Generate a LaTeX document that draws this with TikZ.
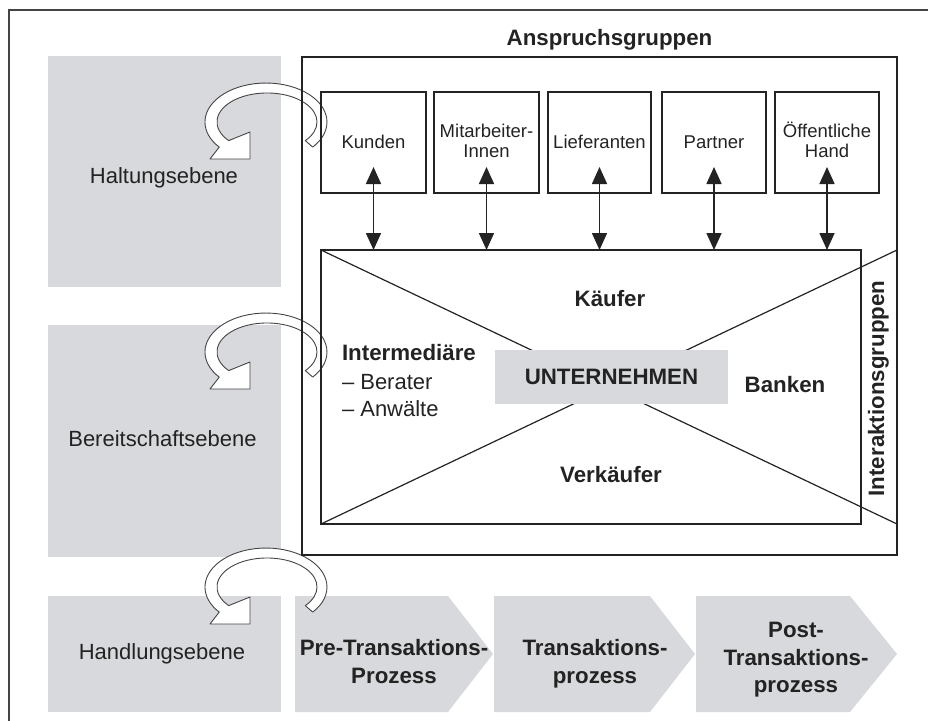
\documentclass[tikz,border=0pt]{standalone}
\usepackage{fontspec}
\setmainfont{Liberation Sans}
\usetikzlibrary{arrows.meta,calc}
\definecolor{lgray}{RGB}{216,217,220}
\definecolor{ink}{RGB}{35,35,35}
\begin{document}
\begin{tikzpicture}[x=1pt,y=-1pt,
  every node/.style={inner sep=0pt, outer sep=0pt, text=ink},
  graybox/.style={fill=lgray, draw=none, rectangle},
  frame/.style={draw=ink!85, line width=1.3pt},
  grpbox/.style={draw=ink, line width=1.4pt, rectangle},
  lbl/.style={font=\fontsize{22}{26}\selectfont, anchor=base},
  blbl/.style={font=\fontsize{22.3}{28}\selectfont\bfseries, anchor=base},
  slbl/.style={font=\fontsize{18.5}{20}\selectfont, anchor=base},
  dbl/.style={{Triangle[length=17pt,width=15pt]}-{Triangle[length=17pt,width=15pt]}, line width=1.6pt, draw=ink},
  loopar/.style={fill=white, draw=ink!85, line width=0.9pt, line join=round},
  diag/.style={draw=ink, line width=1.2pt}]

\useasboundingbox (0,0) rectangle (928,720);
\clip (0,0) rectangle (928,720);

% outer frame (cut by the picture edge on the right and bottom)
\draw[frame] (9,10) rectangle (960,760);

% level boxes
\node[graybox, minimum width=233pt, minimum height=231pt] (halt) at (164.5,171.5) {};
\node[graybox, minimum width=233pt, minimum height=232pt] (bereit) at (164.5,441) {};
\node[graybox, minimum width=233pt, minimum height=116pt] (handl) at (164.5,654) {};

% process chevrons
\fill[lgray] (295,596) -- (448,596) -- (493,654) -- (448,712) -- (295,712) -- cycle;
\fill[lgray] (494,596) -- (650,596) -- (695,654) -- (650,712) -- (494,712) -- cycle;
\fill[lgray] (696,596) -- (850,596) -- (897,654) -- (850,712) -- (696,712) -- cycle;

% loop arrows
\foreach \dy in {0,230,465} {
  \begin{scope}[shift={(0,\dy)}]
    \path[loopar] (312.7,147.1) arc[start angle=40, end angle=-220, x radius=61, y radius=39]
      -- (210,159) -- (250,159) -- (250,132) -- (228.7,140.6)
      arc[start angle=140, end angle=400, x radius=50, y radius=29] -- cycle;
  \end{scope}
}

% Anspruchsgruppen box
\node[grpbox, minimum width=595pt, minimum height=498pt] (anspr) at (599.5,306) {};
\node[blbl] (tanspr) at (609.5,45) {Anspruchsgruppen};

% stakeholder boxes
\node[grpbox, minimum width=105pt, minimum height=101pt] (kunden) at (373.5,142.5) {};
\node[grpbox, minimum width=105pt, minimum height=101pt] (mitarb) at (486.5,142.5) {};
\node[grpbox, minimum width=103pt, minimum height=101pt] (liefer) at (599.5,142.5) {};
\node[grpbox, minimum width=104pt, minimum height=101pt] (partner) at (714,142.5) {};
\node[grpbox, minimum width=104pt, minimum height=101pt] (oeff) at (827,142.5) {};

\node[slbl] (tkunden) at (373.5,148) {Kunden};
\node[slbl] (tmitarb1) at (486.5,137) {Mitarbeiter-};
\node[slbl] (tmitarb2) at (486.5,157) {Innen};
\node[slbl] (tliefer) at (599.5,148) {Lieferanten};
\node[slbl] (tpartner) at (714,148) {Partner};
\node[slbl] (toeff1) at (827,137) {Öffentliche};
\node[slbl] (toeff2) at (827,157) {Hand};

% interaction rectangle
\node[grpbox, minimum width=540pt, minimum height=274pt] (inner) at (591,387) {};
\draw[diag] (inner.north west) -- (anspr.east |- inner.south);
\draw[diag] (inner.south west) -- (anspr.east |- inner.north);

\node[graybox, minimum width=233pt, minimum height=54pt,
      font=\fontsize{22.3}{26}\selectfont\bfseries] (unt) at (611.5,377) {UNTERNEHMEN};

% double arrows
\foreach \n in {kunden,mitarb,liefer,partner,oeff} {
  \draw[dbl] ([yshift=26pt]\n.south) -- (\n.south |- inner.north);
}

% interaction group labels
\node[blbl] (tkaeufer) at (610,306) {Käufer};
\node[blbl] (tverk) at (611,482) {Verkäufer};
\node[blbl] (tbanken) at (785,392) {Banken};
\node[blbl, anchor=base west] (tinter) at (342,360) {Intermediäre};
\node[lbl, anchor=base west] (tberater) at (342,389) {– Berater};
\node[lbl, anchor=base west] (tanw) at (342,416) {– Anwälte};
\node[blbl, rotate=90] (tinteraktion) at (884,388.5) {Interaktionsgruppen};

% level labels
\node[lbl] (thalt) at (164,183) {Haltungsebene};
\node[lbl] (tbereit) at (162.5,446) {Bereitschaftsebene};
\node[lbl] (thandl) at (162,659) {Handlungsebene};

% process labels
\node[blbl] (tpre1) at (394,655) {Pre-Transaktions-};
\node[blbl] (tpre2) at (394,683) {Prozess};
\node[blbl] (ttr1) at (595,655) {Transaktions-};
\node[blbl] (ttr2) at (595,683) {prozess};
\node[blbl] (tpost1) at (796,637) {Post-};
\node[blbl] (tpost2) at (796,665) {Transaktions-};
\node[blbl] (tpost3) at (796,692) {prozess};
\end{tikzpicture}
\end{document}
